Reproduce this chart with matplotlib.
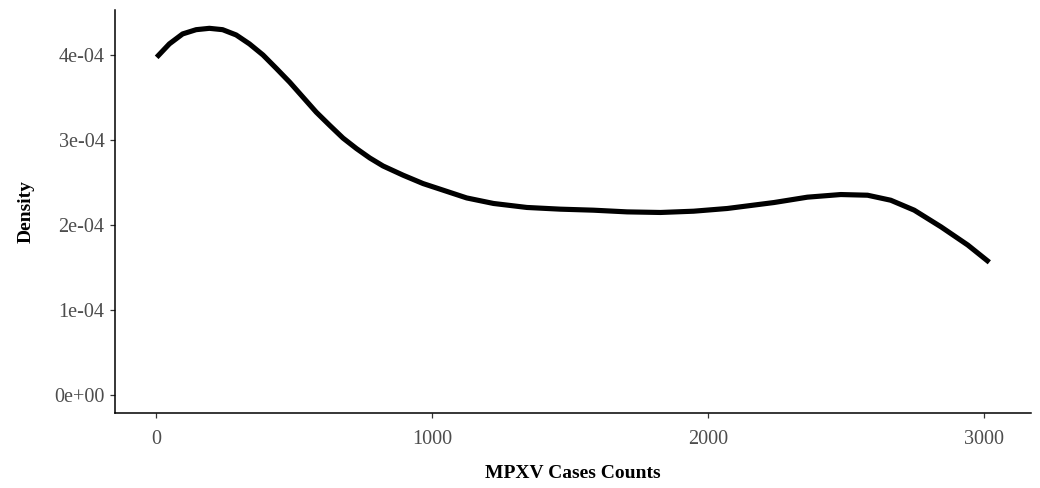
import matplotlib
matplotlib.use("Agg")
import matplotlib.pyplot as plt
from matplotlib.ticker import FuncFormatter

casos = [3, 49, 97, 146, 194, 242, 291, 339, 388, 436, 485, 533, 581, 630,
         678, 727, 775, 823, 896, 968, 1041, 1126, 1223, 1344, 1465, 1585,
         1707, 1828, 1948, 2070, 2239, 2360, 2481, 2578, 2662, 2747, 2844,
         2941, 3019]
densidad = [3.968, 4.126, 4.243, 4.293, 4.309, 4.293, 4.231, 4.126, 3.996,
            3.839, 3.675, 3.499, 3.323, 3.167, 3.018, 2.894, 2.784, 2.690,
            2.581, 2.483, 2.405, 2.314, 2.249, 2.202, 2.182, 2.170, 2.150,
            2.143, 2.158, 2.190, 2.260, 2.323, 2.354, 2.346, 2.287, 2.170,
            1.974, 1.760, 1.557]
densidad = [d * 1e-4 for d in densidad]

xticks = [0, 1000, 2000, 3000]
yticks = [0, 1e-4, 2e-4, 3e-4, 4e-4]

plt.rcParams['font.family'] = ['Liberation Serif', 'DejaVu Serif']

fig = plt.figure(figsize=(10.4, 4.88), dpi=100)
ax = fig.add_axes([0.1106, 0.1537, 0.8807, 0.8258])
ax.plot(casos, densidad, color='black', linewidth=3.7,
        solid_capstyle='butt', solid_joinstyle='round')

# expansion de 5% como ggplot
xr = max(casos) - min(casos)
ax.set_xlim(min(casos) - 0.05 * xr, max(casos) + 0.05 * xr)
ax.set_ylim(-0.05 * max(densidad), 1.05 * max(densidad))

ax.set_xticks(xticks)
ax.set_yticks(yticks)
ax.yaxis.set_major_formatter(FuncFormatter(lambda v, p: f"{v:.0e}"))

for s in ['top', 'right']:
    ax.spines[s].set_visible(False)
for s in ['left', 'bottom']:
    ax.spines[s].set_linewidth(1.1)
    ax.spines[s].set_color('black')

ax.tick_params(axis='both', length=3.5, width=0.9, color='#333333',
               labelcolor='#4D4D4D', labelsize=14.5)
ax.tick_params(axis='x', pad=9)
ax.tick_params(axis='y', pad=4)

ax.set_xlabel("MPXV Cases Counts", fontsize=14, fontweight='bold', labelpad=11)
ax.set_ylabel("Density", fontsize=14, fontweight='bold', labelpad=14)

fig.savefig("out.png", dpi=100)
